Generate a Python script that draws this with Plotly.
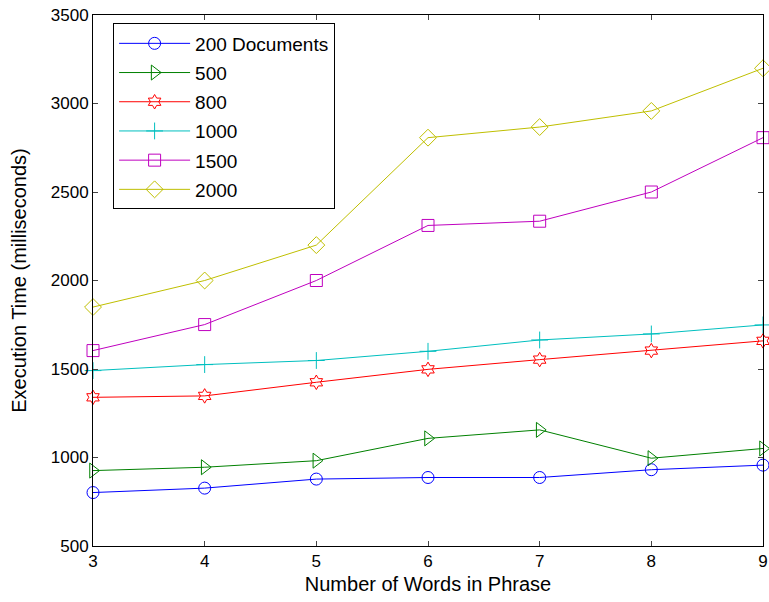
import plotly.graph_objects as go

words = [3, 4, 5, 6, 7, 8, 9]
series_names = ["200 Documents", "500", "800", "1000", "1500", "2000"]
docs200 = [802, 827, 878, 887, 887, 931, 957]
docs500 = [926, 945, 982, 1108, 1156, 996, 1051]
docs800 = [1340, 1348, 1425, 1498, 1553, 1604, 1659]
docs1000 = [1491, 1525, 1548, 1600, 1664, 1698, 1749]
docs1500 = [1604, 1751, 2000, 2311, 2335, 2500, 2807]
docs2000 = [1850, 2000, 2200, 2807, 2867, 2958, 3199]
y_ticks = [500, 1000, 1500, 2000, 2500, 3000, 3500]

all_values = [docs200, docs500, docs800, docs1000, docs1500, docs2000]
colors = ["#0000ff", "#008000", "#ff0000", "#00bfbf", "#bf00bf", "#bfbf00"]
symbols = ["circle-open", "triangle-right-open", "hexagram-open",
           "cross-thin-open", "square-open", "diamond-open"]
sizes = [12, 13, 11, 12, 12, 13]

fig = go.Figure()
for i, (name, vals) in enumerate(zip(series_names, all_values)):
    fig.add_trace(go.Scatter(
        x=words, y=vals, name=name, mode="lines+markers",
        legendgroup=name,
        line=dict(color=colors[i], width=1),
        marker=dict(symbol=symbols[i], size=sizes[i], color=colors[i],
                    line=dict(color=colors[i], width=1)),
        cliponaxis=False,
    ))

fig.update_layout(
    width=769, height=602,
    margin=dict(l=93, r=6, t=15, b=56, autoexpand=False),
    paper_bgcolor="white", plot_bgcolor="white",
    font=dict(family="Liberation Sans, Arial, sans-serif", size=17, color="black"),
    showlegend=True,
    legend=dict(x=0.03, y=0.984, xanchor="left", yanchor="top",
                bordercolor="black", borderwidth=1, bgcolor="white",
                font=dict(size=19), itemwidth=71, tracegroupgap=1.5),
    xaxis=dict(range=[3, 9], tickvals=words, ticks="inside", ticklen=5,
               showline=True, linecolor="black", linewidth=1, mirror="ticks",
               showgrid=False, zeroline=False, automargin=False,
               title=dict(text="Number of Words in Phrase", standoff=6)),
    yaxis=dict(range=[500, 3500], tickvals=y_ticks, ticks="inside", ticklen=5,
               showline=True, linecolor="black", linewidth=1, mirror="ticks",
               showgrid=False, zeroline=False, automargin=False,
               title=dict(text="Execution Time (milliseconds)", standoff=18)),
)

fig.write_html("out.html")
